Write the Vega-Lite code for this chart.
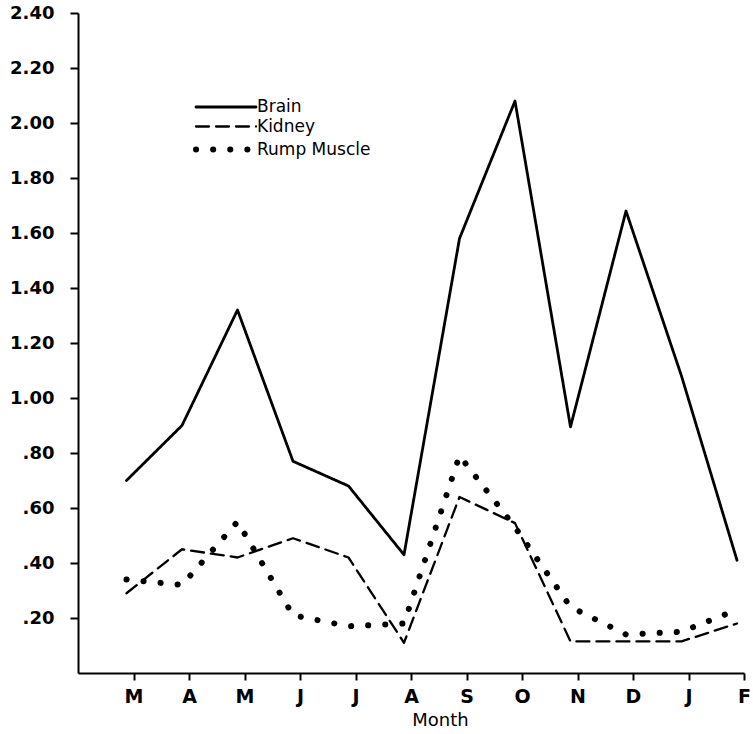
{
  "$schema": "https://vega.github.io/schema/vega-lite/v6.json",
  "width": 666,
  "height": 660,
  "autosize": {"type": "none"},
  "padding": {"left": 78, "top": 13, "right": 9, "bottom": 61},
  "background": "white",
  "config": {
    "view": {"stroke": null},
    "font": "DejaVu Sans"
  },
  "data": {
    "values": [
      {"month": 1, "tissue": "Brain", "value": 0.70},
      {"month": 2, "tissue": "Brain", "value": 0.90},
      {"month": 3, "tissue": "Brain", "value": 1.32},
      {"month": 4, "tissue": "Brain", "value": 0.77},
      {"month": 5, "tissue": "Brain", "value": 0.68},
      {"month": 6, "tissue": "Brain", "value": 0.43},
      {"month": 7, "tissue": "Brain", "value": 1.58},
      {"month": 8, "tissue": "Brain", "value": 2.08},
      {"month": 9, "tissue": "Brain", "value": 0.895},
      {"month": 10, "tissue": "Brain", "value": 1.68},
      {"month": 11, "tissue": "Brain", "value": 1.08},
      {"month": 12, "tissue": "Brain", "value": 0.41},
      {"month": 1, "tissue": "Kidney", "value": 0.29},
      {"month": 2, "tissue": "Kidney", "value": 0.45},
      {"month": 3, "tissue": "Kidney", "value": 0.42},
      {"month": 4, "tissue": "Kidney", "value": 0.49},
      {"month": 5, "tissue": "Kidney", "value": 0.42},
      {"month": 6, "tissue": "Kidney", "value": 0.11},
      {"month": 7, "tissue": "Kidney", "value": 0.64},
      {"month": 8, "tissue": "Kidney", "value": 0.545},
      {"month": 9, "tissue": "Kidney", "value": 0.115},
      {"month": 10, "tissue": "Kidney", "value": 0.115},
      {"month": 11, "tissue": "Kidney", "value": 0.115},
      {"month": 12, "tissue": "Kidney", "value": 0.18},
      {"month": 1, "tissue": "Rump Muscle", "value": 0.34},
      {"month": 2, "tissue": "Rump Muscle", "value": 0.32},
      {"month": 3, "tissue": "Rump Muscle", "value": 0.55},
      {"month": 4, "tissue": "Rump Muscle", "value": 0.21},
      {"month": 5, "tissue": "Rump Muscle", "value": 0.17},
      {"month": 6, "tissue": "Rump Muscle", "value": 0.18},
      {"month": 7, "tissue": "Rump Muscle", "value": 0.79},
      {"month": 8, "tissue": "Rump Muscle", "value": 0.53},
      {"month": 9, "tissue": "Rump Muscle", "value": 0.24},
      {"month": 10, "tissue": "Rump Muscle", "value": 0.14},
      {"month": 11, "tissue": "Rump Muscle", "value": 0.15},
      {"month": 12, "tissue": "Rump Muscle", "value": 0.23}
    ]
  },
  "mark": {"type": "line", "color": "black", "strokeCap": "round", "strokeJoin": "round", "xOffset": -7},
  "encoding": {
    "x": {
      "field": "month",
      "type": "quantitative",
      "scale": {"domain": [0, 12], "nice": false, "zero": false},
      "axis": {
        "values": [1, 2, 3, 4, 5, 6, 7, 8, 9, 10, 11, 12],
        "labelExpr": "['','M','A','M','J','J','A','S','O','N','D','J','F'][datum.value]",
        "grid": false,
        "domainColor": "black",
        "domainWidth": 2,
        "tickColor": "black",
        "tickWidth": 2,
        "tickSize": 7,
        "labelFont": "DejaVu Sans",
        "labelFontWeight": "bold",
        "labelFontSize": 19,
        "labelColor": "black",
        "labelPadding": 7,
        "labelFlush": false,
        "title": "Month",
        "titleFont": "DejaVu Sans",
        "titleFontWeight": "normal",
        "titleFontSize": 18,
        "titleColor": "black",
        "titleX": 362,
        "titleY": 52,
        "titleAlign": "center",
        "titleBaseline": "alphabetic"
      }
    },
    "y": {
      "field": "value",
      "type": "quantitative",
      "scale": {"domain": [0, 2.4], "nice": false},
      "axis": {
        "values": [0.2, 0.4, 0.6, 0.8, 1.0, 1.2, 1.4, 1.6, 1.8, 2.0, 2.2, 2.4],
        "labelExpr": "datum.value >= 1 ? format(datum.value, '.2f') : replace(format(datum.value, '.2f'), '0.', '.')",
        "grid": false,
        "domainColor": "black",
        "domainWidth": 2,
        "tickColor": "black",
        "tickWidth": 2,
        "tickSize": 8,
        "labelFont": "DejaVu Sans",
        "labelFontWeight": "bold",
        "labelFontSize": 18,
        "labelColor": "black",
        "labelPadding": 16,
        "labelFlush": false,
        "title": null
      }
    },
    "strokeDash": {
      "field": "tissue",
      "type": "nominal",
      "scale": {
        "domain": ["Brain", "Kidney", "Rump Muscle"],
        "range": [[1, 0], [13, 7], [0.1, 17]]
      },
      "legend": {
        "title": null,
        "orient": "none",
        "legendX": 137.5,
        "legendY": 85,
        "symbolType": "M-4,0H4",
        "symbolSize": 225,
        "symbolStrokeColor": "black",
        "labelFont": "DejaVu Sans",
        "labelFontSize": 17,
        "labelColor": "black",
        "labelOffset": 20.5,
        "rowPadding": 2.5,
        "encode": {"symbols": {"update": {"strokeCap": {"value": "round"}}}}
      }
    },
    "strokeWidth": {
      "field": "tissue",
      "type": "nominal",
      "scale": {
        "type": "ordinal",
        "domain": ["Brain", "Kidney", "Rump Muscle"],
        "range": [2.8, 2.3, 6]
      },
      "legend": null
    }
  }
}
